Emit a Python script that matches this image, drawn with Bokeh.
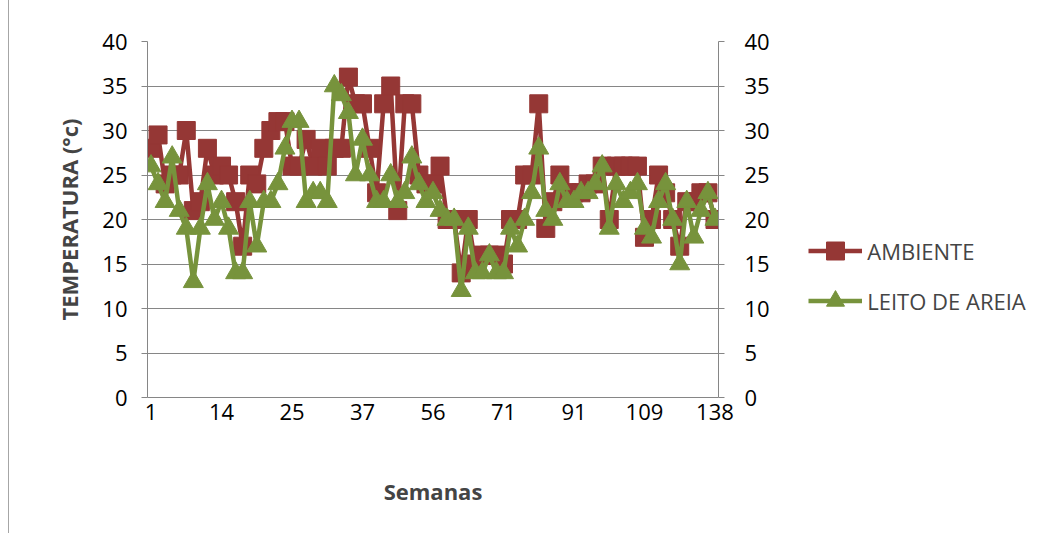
from bokeh.plotting import figure
from bokeh.models import LinearAxis, FixedTicker, SingleIntervalTicker, Legend, LegendItem, Range1d
from bokeh.embed import file_html
from bokeh.resources import INLINE

# category labels shown on the x axis (every 10th week entry)
tick_labels = ["1", "14", "25", "37", "56", "71", "91", "109", "138"]
tick_every = 10

ambiente = [28, 29.5, 24, 25, 25, 30, 21, 22, 28, 25,
            26, 25, 22, 17, 25, 24, 28, 30, 31, 31,
            26, 26, 29, 26, 28, 26, 28, 28, 36, 33,
            33, 28, 23, 33, 35, 21, 33, 33, 25, 24,
            24, 26, 20, 20, 14, 20, 15, 16, 16, 16,
            15, 20, 20, 25, 25, 33, 19, 22, 25, 23,
            23, 23, 24, 24, 26, 20, 26, 26, 26, 26,
            18, 20, 25, 23, 20, 17, 22, 22, 23, 23,
            20]
leito = [26, 24, 22, 27, 21, 19, 13, 19, 24, 20,
         22, 19, 14, 14, 22, 17, 22, 22, 24, 28,
         31, 31, 22, 23, 23, 22, 35, 34, 32, 25,
         29, 25, 22, 22, 25, 22, 23, 27, 24, 22,
         23, 21, 20, 20, 12, 19, 14, 14, 16, 14,
         14, 19, 17, 20, 23, 28, 21, 20, 24, 22,
         22, 23, 23, 24, 26, 19, 24, 22, 23, 24,
         19, 18, 22, 24, 20, 15, 22, 18, 21, 23,
         20]

RED = "#953735"
GREEN = "#77933C"
GRID = "#868686"
FONT = "Open Sans"
FS = "22px"

n = len(ambiente)
idx = list(range(n))

p = figure(frame_width=571, frame_height=356, output_backend="svg", toolbar_location=None,
           x_range=Range1d(-0.5, n - 0.5), y_range=Range1d(0, 40),
           min_border_left=138, min_border_right=0, min_border_top=41, min_border_bottom=136,
           background_fill_color="white", border_fill_color="white")
p.outline_line_color = None
p.xgrid.grid_line_color = None
p.ygrid.grid_line_color = GRID
p.ygrid.grid_line_width = 1
p.ygrid.ticker = SingleIntervalTicker(interval=5)

# left y axis
ya = p.yaxis[0]
ya.ticker = SingleIntervalTicker(interval=5)
ya.axis_label = "TEMPERATURA (°c)"
ya.axis_label_text_font = FONT
ya.axis_label_text_font_style = "bold"
ya.axis_label_text_font_size = FS
ya.axis_label_standoff = 15
ya.major_label_text_font = FONT
ya.major_label_text_font_size = FS
ya.major_label_text_color = "black"
ya.major_label_standoff = 14
ya.axis_line_color = GRID
ya.major_tick_line_color = GRID
ya.major_tick_out = 6
ya.major_tick_in = 0
ya.minor_tick_line_color = None

# right y axis
ra = LinearAxis(ticker=SingleIntervalTicker(interval=5))
ra.major_label_text_font = FONT
ra.major_label_text_font_size = FS
ra.major_label_text_color = "black"
ra.major_label_standoff = 20
ra.axis_line_color = GRID
ra.major_tick_line_color = GRID
ra.major_tick_out = 6
ra.major_tick_in = 0
ra.minor_tick_line_color = None
p.add_layout(ra, "right")

# x axis (categories)
xa = p.xaxis[0]
tick_pos = [i * tick_every for i in range(len(tick_labels))]
xa.ticker = FixedTicker(ticks=tick_pos)
xa.major_label_overrides = {pos: lab for pos, lab in zip(tick_pos, tick_labels)}
xa.axis_label = "Semanas"
xa.axis_label_text_font = FONT
xa.axis_label_text_font_style = "bold"
xa.axis_label_text_font_size = FS
xa.axis_label_standoff = 53
xa.major_label_text_font = FONT
xa.major_label_text_font_size = FS
xa.major_label_text_color = "black"
xa.major_label_standoff = 0
xa.axis_line_color = GRID
xa.major_tick_line_color = None
xa.minor_tick_line_color = None

r1 = p.line(idx, ambiente, line_color=RED, line_width=4.5)
s1 = p.scatter(idx, ambiente, marker="square", size=18, fill_color=RED, line_color=RED)
r2 = p.line(idx, leito, line_color=GREEN, line_width=4.5)
s2 = p.scatter(idx, leito, marker="triangle", size=20, fill_color=GREEN, line_color=GREEN)

legend = Legend(items=[LegendItem(label="AMBIENTE", renderers=[r1, s1]),
                       LegendItem(label="LEITO DE AREIA", renderers=[r2, s2])],
                location=(-187, 74), glyph_width=54, glyph_height=45, spacing=5,
                padding=0, margin=0, label_standoff=5,
                label_text_font=FONT, label_text_font_size=FS,
                border_line_color=None, background_fill_alpha=0)
p.add_layout(legend, "right")

p.styles = {"margin-left": "8px", "border-left": "1px solid #a6a6a6"}

open("out.html", "w").write(file_html(p, INLINE))
